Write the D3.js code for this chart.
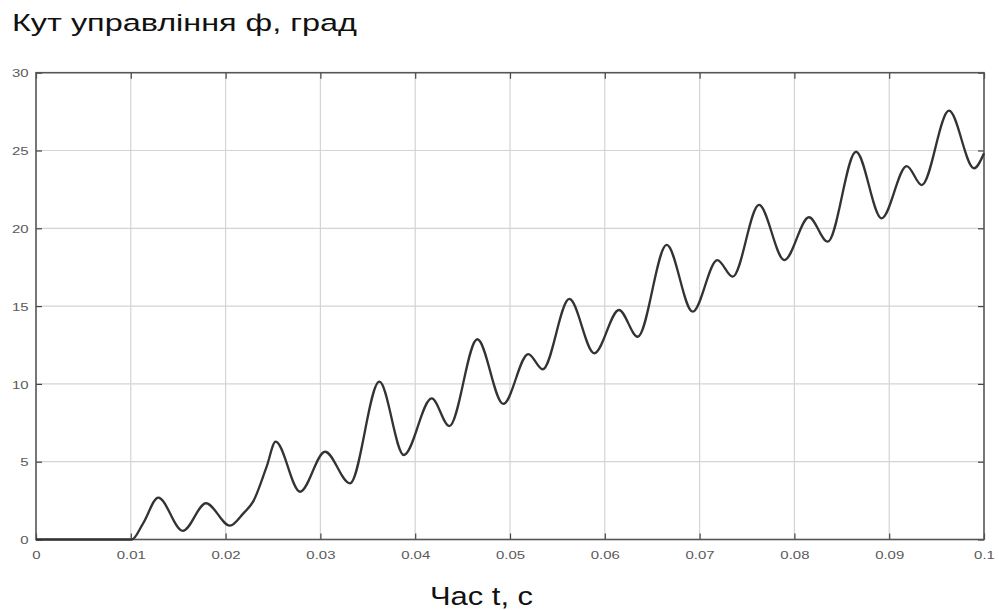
<!DOCTYPE html>
<html><head><meta charset="utf-8">
<script src="https://cdn.jsdelivr.net/npm/d3@7"></script>
<style>body{margin:0;background:#fff}svg{display:block}</style>
</head><body>
<svg id="c" width="999" height="610"></svg>
<script>
const titleText = "Кут управління ф, град";
const xLabelText = "Час t, с";
const xTicks = [0,0.01,0.02,0.03,0.04,0.05,0.06,0.07,0.08,0.09,0.1];
const xTickLabels = ["0","0.01","0.02","0.03","0.04","0.05","0.06","0.07","0.08","0.09","0.1"];
const yTicks = [0,5,10,15,20,25,30];
const tValues = [0,0.0101,0.0113,0.0129,0.01548,0.01793,0.02046,0.02187,0.0229,0.02433,0.02528,0.02785,0.03049,0.03312,0.03622,0.0388,0.04174,0.0436,0.04655,0.04929,0.05193,0.05345,0.05626,0.05889,0.0615,0.06347,0.06653,0.06927,0.07187,0.07349,0.07627,0.07894,0.08154,0.08351,0.0865,0.0892,0.09185,0.09343,0.09631,0.09895,0.1];
const phiValues = [0,0,1.04,2.69,0.55,2.33,0.89,1.68,2.43,4.68,6.29,3.07,5.64,3.61,10.14,5.43,9.07,7.29,12.87,8.71,11.92,10.94,15.46,11.97,14.75,13.03,18.93,14.64,17.96,16.89,21.5,17.96,20.71,19.14,24.92,20.64,24.0,22.78,27.56,23.86,24.82];

const svg = d3.select("#c");
const FONT = "Liberation Sans, Arial, sans-serif";
const L=36, R=984, T=72.7, B=539.5;
const x = d3.scaleLinear().domain([0,0.1]).range([L,R]);
const y = d3.scaleLinear().domain([0,30]).range([B,T]);

// grid
svg.append("g").selectAll("line").data(xTicks.slice(1,-1)).join("line")
  .attr("x1",d=>x(d)).attr("x2",d=>x(d)).attr("y1",T).attr("y2",B)
  .attr("stroke","#d4d4d4").attr("stroke-width",1.2);
svg.append("g").selectAll("line").data(yTicks.slice(1,-1)).join("line")
  .attr("y1",d=>y(d)).attr("y2",d=>y(d)).attr("x1",L).attr("x2",R)
  .attr("stroke","#d4d4d4").attr("stroke-width",1.2);

// axes with inward ticks
const tickStyle = g => { g.select(".domain").remove(); g.selectAll(".tick line").attr("stroke","#444").attr("stroke-width",1.2); };
svg.append("g").attr("transform",`translate(0,${B})`)
  .call(d3.axisBottom(x).tickValues(xTicks).tickSizeInner(-6).tickSizeOuter(0).tickFormat((d,i)=>xTickLabels[i]))
  .call(tickStyle)
  .call(g=>g.selectAll("text").attr("y",null).attr("dy",null)
    .attr("transform","translate(0,19.5) scale(1.3,1)")
    .attr("font-family",FONT).attr("font-size",11.5).attr("fill","#5a5a5a"));
svg.append("g").attr("transform",`translate(0,${T})`)
  .call(d3.axisTop(x).tickValues(xTicks).tickSizeInner(-6).tickSizeOuter(0).tickFormat(""))
  .call(tickStyle);
svg.append("g").attr("transform",`translate(${L},0)`)
  .call(d3.axisLeft(y).tickValues(yTicks).tickSizeInner(-6).tickSizeOuter(0))
  .call(tickStyle)
  .call(g=>g.selectAll("text").attr("x",null).attr("dy",null)
    .attr("transform","translate(-7.5,4.2) scale(1.3,1)")
    .attr("font-family",FONT).attr("font-size",11.5).attr("fill","#5a5a5a"));
svg.append("g").attr("transform",`translate(${R},0)`)
  .call(d3.axisRight(y).tickValues(yTicks).tickSizeInner(-6).tickSizeOuter(0).tickFormat(""))
  .call(tickStyle);

// box
svg.append("rect").attr("x",L).attr("y",T).attr("width",R-L).attr("height",B-T)
  .attr("fill","none").attr("stroke","#555").attr("stroke-width",1.6);

// line
const data = tValues.map((t,i)=>({t, v:phiValues[i]}));
svg.append("path").datum(data)
  .attr("d", d3.line().x(d=>x(d.t)).y(d=>y(d.v)).curve(d3.curveMonotoneX))
  .attr("fill","none").attr("stroke","#333").attr("stroke-width",2.3).attr("stroke-linejoin","round");

// texts
svg.append("text").attr("x",12).attr("y",31).text(titleText)
  .attr("textLength",345).attr("lengthAdjust","spacingAndGlyphs")
  .attr("font-family",FONT).attr("font-size",24.5).attr("fill","#111");
svg.append("text").attr("x",430).attr("y",605).text(xLabelText)
  .attr("textLength",103).attr("lengthAdjust","spacingAndGlyphs")
  .attr("font-family",FONT).attr("font-size",25).attr("fill","#111");
</script>
</body></html>
